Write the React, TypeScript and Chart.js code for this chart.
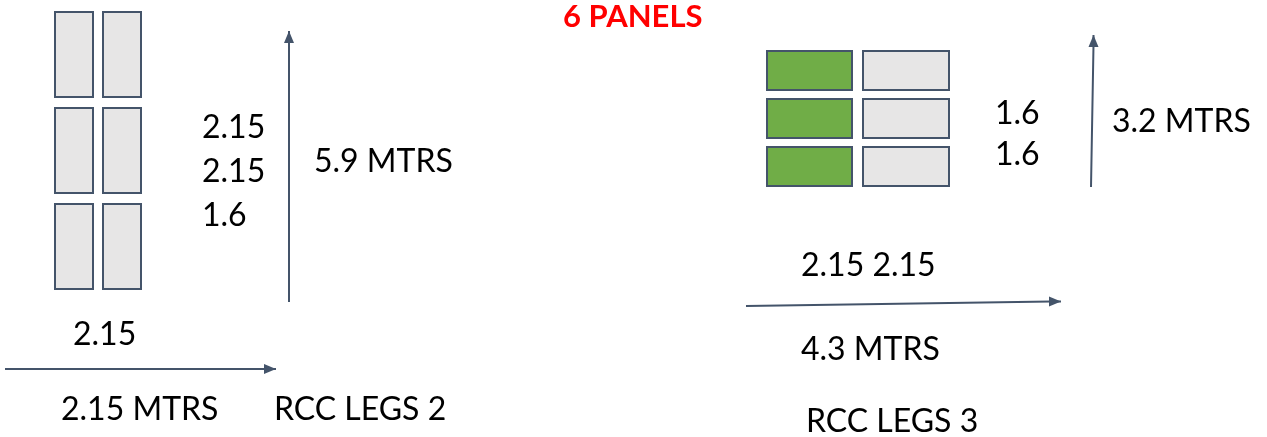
import React, { useEffect, useRef } from "react";
import { Chart, registerables } from "chart.js";
Chart.register(...registerables);

// ---- data ----
const title = "6 PANELS";

// RCC LEGS 2 : 2 columns x 3 rows of panels
const legs2Cols = [[55, 93], [103, 141]];
const legs2Rows = [[12, 97], [108, 193], [204, 289]];
const legs2Fills = ["#E7E6E6", "#E7E6E6"];
const legs2HeightLabels = ["2.15", "2.15", "1.6"];
const legs2WidthLabel = "2.15";
const legs2TotalHeight = "5.9 MTRS";
const legs2TotalWidth = "2.15 MTRS";
const legs2Name = "RCC LEGS 2";

// RCC LEGS 3 : 2 columns x 3 rows of panels
const legs3Cols = [[767, 852], [863, 949]];
const legs3Rows = [[51, 90], [99, 138], [147, 186]];
const legs3Fills = ["#70AD47", "#E7E6E6"];
const legs3HeightLabels = ["1.6", "1.6"];
const legs3WidthLabel = "2.15 2.15";
const legs3TotalHeight = "3.2 MTRS";
const legs3TotalWidth = "4.3 MTRS";
const legs3Name = "RCC LEGS 3";

// arrows (start -> end)
const arrowLegs2Vertical = [{ x: 289, y: 302 }, { x: 289, y: 31 }];
const arrowLegs2Horizontal = [{ x: 5, y: 369 }, { x: 276, y: 369 }];
const arrowLegs3Vertical = [{ x: 1091, y: 187 }, { x: 1093.5, y: 35 }];
const arrowLegs3Horizontal = [{ x: 746, y: 306 }, { x: 1061, y: 301.5 }];

// ---- layout / style ----
const W = 1267;
const H = 437;
const FONT = "Lato, 'Open Sans', sans-serif";
const FS = 32;
const LINE = "#44546A";

type Txt = { t: string; x: number; y: number; bold?: boolean; color?: string; size?: number };

const texts: Txt[] = [
  { t: title, x: 563, y: 27, bold: true, color: "#FF0000", size: 31 },
  ...legs2HeightLabels.map((t, i) => ({ t, x: 202, y: 138 + i * 44 })),
  { t: legs2TotalHeight, x: 314, y: 172 },
  { t: legs2WidthLabel, x: 73, y: 345 },
  { t: legs2TotalWidth, x: 61, y: 420 },
  { t: legs2Name, x: 274, y: 420 },
  ...legs3HeightLabels.map((t, i) => ({ t, x: 995, y: 124 + i * 41 })),
  { t: legs3TotalHeight, x: 1112, y: 132 },
  { t: legs3WidthLabel, x: 801, y: 276 },
  { t: legs3TotalWidth, x: 801, y: 360 },
  { t: legs3Name, x: 806, y: 432 },
];

const panelGroups = [
  { cols: legs2Cols, rows: legs2Rows, fills: legs2Fills },
  { cols: legs3Cols, rows: legs3Rows, fills: legs3Fills },
];

const diagramPlugin = {
  id: "diagram",
  beforeDatasetsDraw(chart: any) {
    const { ctx, scales } = chart;
    const sx = (v: number) => scales.x.getPixelForValue(v);
    const sy = (v: number) => scales.y.getPixelForValue(v);
    ctx.save();
    panelGroups.forEach((g) => {
      g.rows.forEach((r) => {
        g.cols.forEach((c, ci) => {
          const x0 = sx(c[0]);
          const x1 = sx(c[1]);
          const y0 = sy(r[0]);
          const y1 = sy(r[1]);
          ctx.fillStyle = g.fills[ci];
          ctx.fillRect(x0, y0, x1 - x0, y1 - y0);
          ctx.strokeStyle = LINE;
          ctx.lineWidth = 2;
          ctx.strokeRect(x0, y0, x1 - x0, y1 - y0);
        });
      });
    });
    ctx.restore();
  },
  afterDatasetsDraw(chart: any) {
    const { ctx, scales } = chart;
    const sx = (v: number) => scales.x.getPixelForValue(v);
    const sy = (v: number) => scales.y.getPixelForValue(v);
    ctx.save();
    // arrowheads
    chart.data.datasets.forEach((ds: any, i: number) => {
      const meta = chart.getDatasetMeta(i);
      const pts = meta.data;
      if (pts.length < 2) return;
      const a = pts[pts.length - 2];
      const b = pts[pts.length - 1];
      const ang = Math.atan2(b.y - a.y, b.x - a.x);
      const len = 12;
      const hw = 5;
      ctx.fillStyle = LINE;
      ctx.beginPath();
      ctx.moveTo(b.x, b.y);
      ctx.lineTo(
        b.x - len * Math.cos(ang) - hw * Math.sin(ang),
        b.y - len * Math.sin(ang) + hw * Math.cos(ang)
      );
      ctx.lineTo(
        b.x - len * Math.cos(ang) + hw * Math.sin(ang),
        b.y - len * Math.sin(ang) - hw * Math.cos(ang)
      );
      ctx.closePath();
      ctx.fill();
    });
    // texts
    ctx.textBaseline = "alphabetic";
    ctx.textAlign = "left";
    texts.forEach((tx) => {
      ctx.font = `${tx.bold ? "bold " : ""}${tx.size || FS}px ${FONT}`;
      ctx.fillStyle = tx.color || "#000000";
      ctx.fillText(tx.t, sx(tx.x), sy(tx.y));
    });
    ctx.restore();
  },
};

export default function App() {
  const ref = useRef<HTMLCanvasElement | null>(null);
  useEffect(() => {
    document.body.style.margin = "0";
    const canvas = ref.current;
    if (!canvas) return;
    const mk = (data: { x: number; y: number }[]) => ({
      data,
      showLine: true,
      borderColor: LINE,
      borderWidth: 2,
      pointRadius: 0,
      pointHoverRadius: 0,
      fill: false,
    });
    const chart = new Chart(canvas, {
      type: "scatter",
      data: {
        datasets: [
          mk(arrowLegs2Vertical.map((p, i) => (i === 1 ? { x: p.x, y: p.y + 10 } : p)).concat([arrowLegs2Vertical[1]])),
          mk(arrowLegs2Horizontal.map((p, i) => (i === 1 ? { x: p.x - 10, y: p.y } : p)).concat([arrowLegs2Horizontal[1]])),
          mk(arrowLegs3Vertical.map((p, i) => (i === 1 ? { x: p.x, y: p.y + 10 } : p)).concat([arrowLegs3Vertical[1]])),
          mk(arrowLegs3Horizontal.map((p, i) => (i === 1 ? { x: p.x - 10, y: p.y } : p)).concat([arrowLegs3Horizontal[1]])),
        ],
      },
      options: {
        animation: false,
        responsive: false,
        devicePixelRatio: 1,
        events: [],
        layout: { padding: 0 },
        plugins: { legend: { display: false }, tooltip: { enabled: false }, title: { display: false } },
        scales: {
          x: { type: "linear", min: 0, max: W, display: false },
          y: { type: "linear", min: 0, max: H, reverse: true, display: false },
        },
      } as any,
      plugins: [diagramPlugin],
    });
    return () => chart.destroy();
  }, []);
  return (
    <div style={{ width: W, height: H, background: "#ffffff" }}>
      <canvas ref={ref} width={W} height={H} style={{ display: "block", width: W, height: H }} />
    </div>
  );
}
